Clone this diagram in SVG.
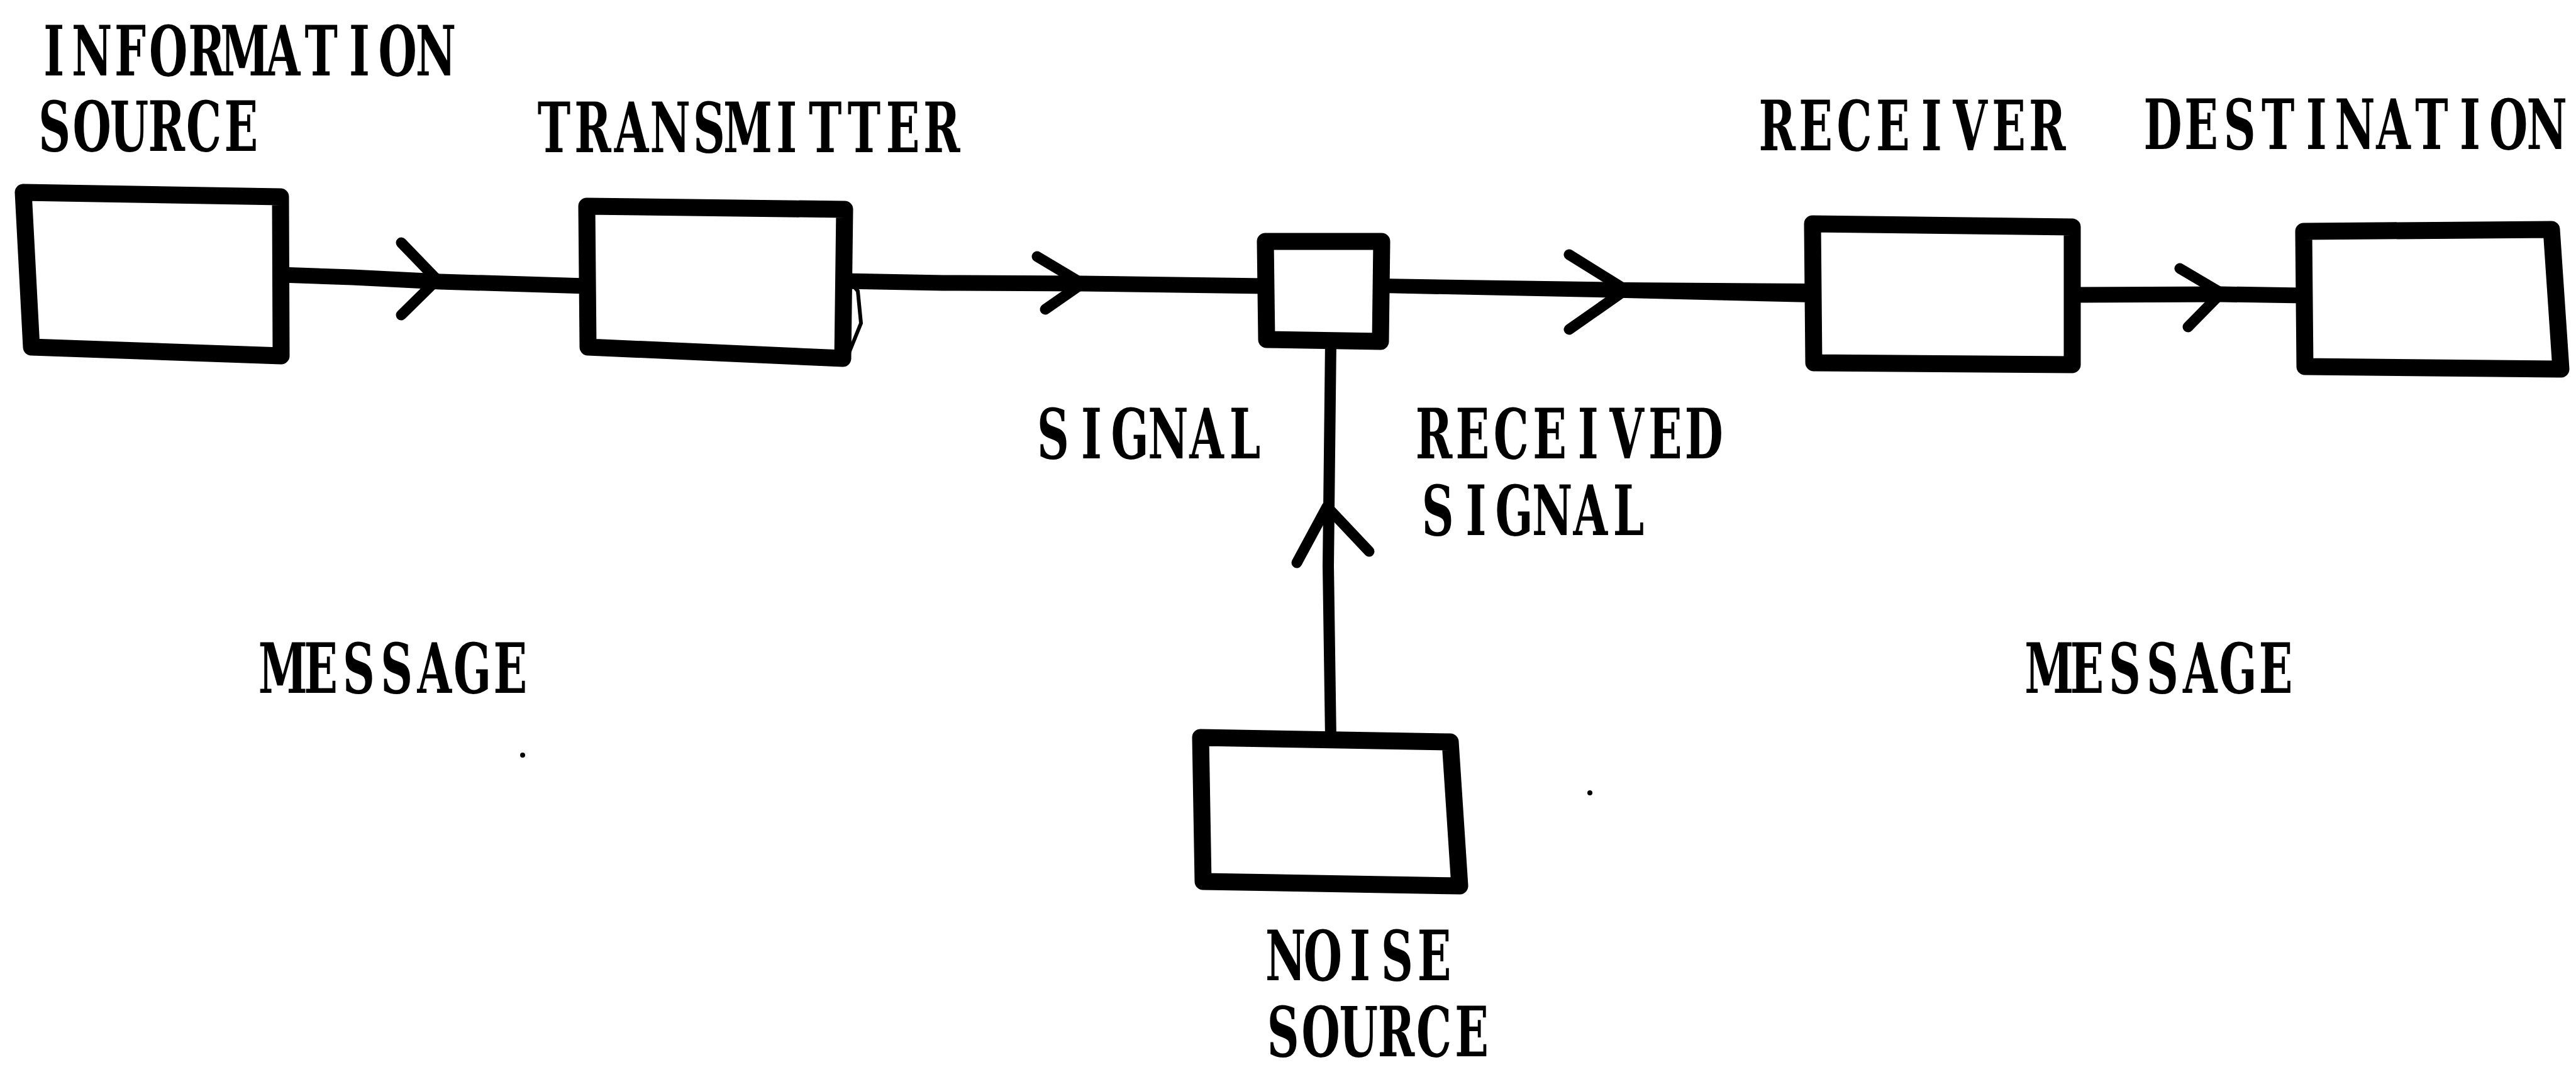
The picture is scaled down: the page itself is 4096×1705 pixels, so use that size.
<svg xmlns="http://www.w3.org/2000/svg" width="4096" height="1705" viewBox="0 0 4096 1705">
<style>
.t{font-family:"DejaVu Serif","Liberation Serif",serif;font-weight:700;font-size:110px;fill:#000;text-anchor:middle}
.box{fill:none;stroke:#000;stroke-width:27;stroke-linejoin:round}
.wire{fill:none;stroke:#000;stroke-width:25;stroke-linecap:butt;stroke-linejoin:round}
.head{fill:none;stroke:#000;stroke-width:17;stroke-linecap:round;stroke-linejoin:round}
.thin{fill:none;stroke:#000;stroke-width:6;stroke-linecap:round}
</style>
<rect width="4096" height="1705" fill="#fff"/>
<g id="connectors">
  <path class="wire" d="M446,437 L560,441 L700,448 L933,455"/>
  <path class="head" d="M638,386 L695,445 L638,501"/>
  <path class="wire" d="M1343,447 L1500,450 L1721,451 L2012,455"/>
  <path class="head" d="M1649,408 L1721,451 L1662,492"/>
  <polygon fill="#000" points="2197,443 2585,449 2882,451 2882,481 2585,474 2197,466"/>
  <path class="head" d="M2495,405 L2585,461 L2495,524"/>
  <path class="wire" d="M3295,469 L3532,468 L3663,470"/>
  <path class="head" d="M3466,427 L3532,466 L3479,520"/>
  <path class="wire" style="stroke-width:18" d="M2116,1175 L2112,900 L2116,543"/>
  <path class="head" d="M2062,895 L2110,806 L2177,877"/>
</g>
<g id="information-source">
  <polygon class="box" points="37,306 446,313 447,566 50,552"/>
  <text class="t" transform="scale(0.64,1)" y="120" x="133.8 228.6 323.5 418.4 513.3 608.2 703.1 798.0 892.9 987.8 1082.7">INFORMATION</text>
  <text class="t" transform="scale(0.64,1)" y="240" x="135.5 228.2 320.9 413.6 506.3 599.0">SOURCE</text>
</g>
<g id="transmitter">
  <polygon class="box" points="933,328 1343,333 1340,570 935,552"/>
  <path class="thin" d="M1340,434 L1364,463 L1369,514 L1350,561 L1307,570"/>
  <text class="t" transform="scale(0.64,1)" y="242" x="1376.4 1472.7 1569.0 1665.3 1761.6 1857.9 1954.2 2050.5 2146.8 2243.1 2339.4">TRANSMITTER</text>
</g>
<g id="channel">
  <polygon class="box" points="2012,384 2197,384 2195,543 2014,540"/>
</g>
<g id="receiver">
  <polygon class="box" points="2882,356 3295,361 3295,580 2884,577"/>
  <text class="t" transform="scale(0.64,1)" y="239" x="4415.2 4511.1 4607.0 4702.9 4798.8 4894.7 4990.6 5086.5">RECEIVER</text>
</g>
<g id="destination">
  <polygon class="box" points="3663,368 4057,365 4072,587 3665,583"/>
  <text class="t" transform="scale(0.64,1)" y="237" x="5373.6 5469.0 5564.4 5659.8 5755.2 5850.6 5946.0 6041.4 6136.8 6232.2 6327.6">DESTINATION</text>
</g>
<g id="noise-source">
  <polygon class="box" points="1909,1173 2306,1180 2321,1409 1913,1402"/>
  <text class="t" transform="scale(0.64,1)" y="1559" x="3194.2 3286.5 3378.8 3471.1 3563.4">NOISE</text>
  <text class="t" transform="scale(0.64,1)" y="1680" x="3187.8 3281.5 3375.2 3468.9 3562.6 3656.3">SOURCE</text>
</g>
<g id="labels">
  <text class="t" transform="scale(0.64,1)" y="729" x="2616.4 2711.7 2807.0 2902.3 2997.6 3092.9">SIGNAL</text>
  <text class="t" transform="scale(0.64,1)" y="729" x="3562.6 3658.4 3754.2 3850.0 3945.8 4041.6 4137.4 4233.2">RECEIVED</text>
  <text class="t" transform="scale(0.64,1)" y="851" x="3572.2 3667.0 3761.8 3856.6 3951.4 4046.2">SIGNAL</text>
  <text class="t" transform="scale(0.64,1)" y="1102" x="702.7 796.9 891.1 985.3 1079.5 1173.7 1267.9">MESSAGE</text>
  <text class="t" transform="scale(0.64,1)" y="1102" x="5091.1 5184.9 5278.7 5372.5 5466.3 5560.1 5653.9">MESSAGE</text>
</g>
<g id="specks" fill="#000">
  <circle cx="831" cy="1201" r="4"/>
  <circle cx="2528" cy="1261" r="4"/>
</g>
</svg>
